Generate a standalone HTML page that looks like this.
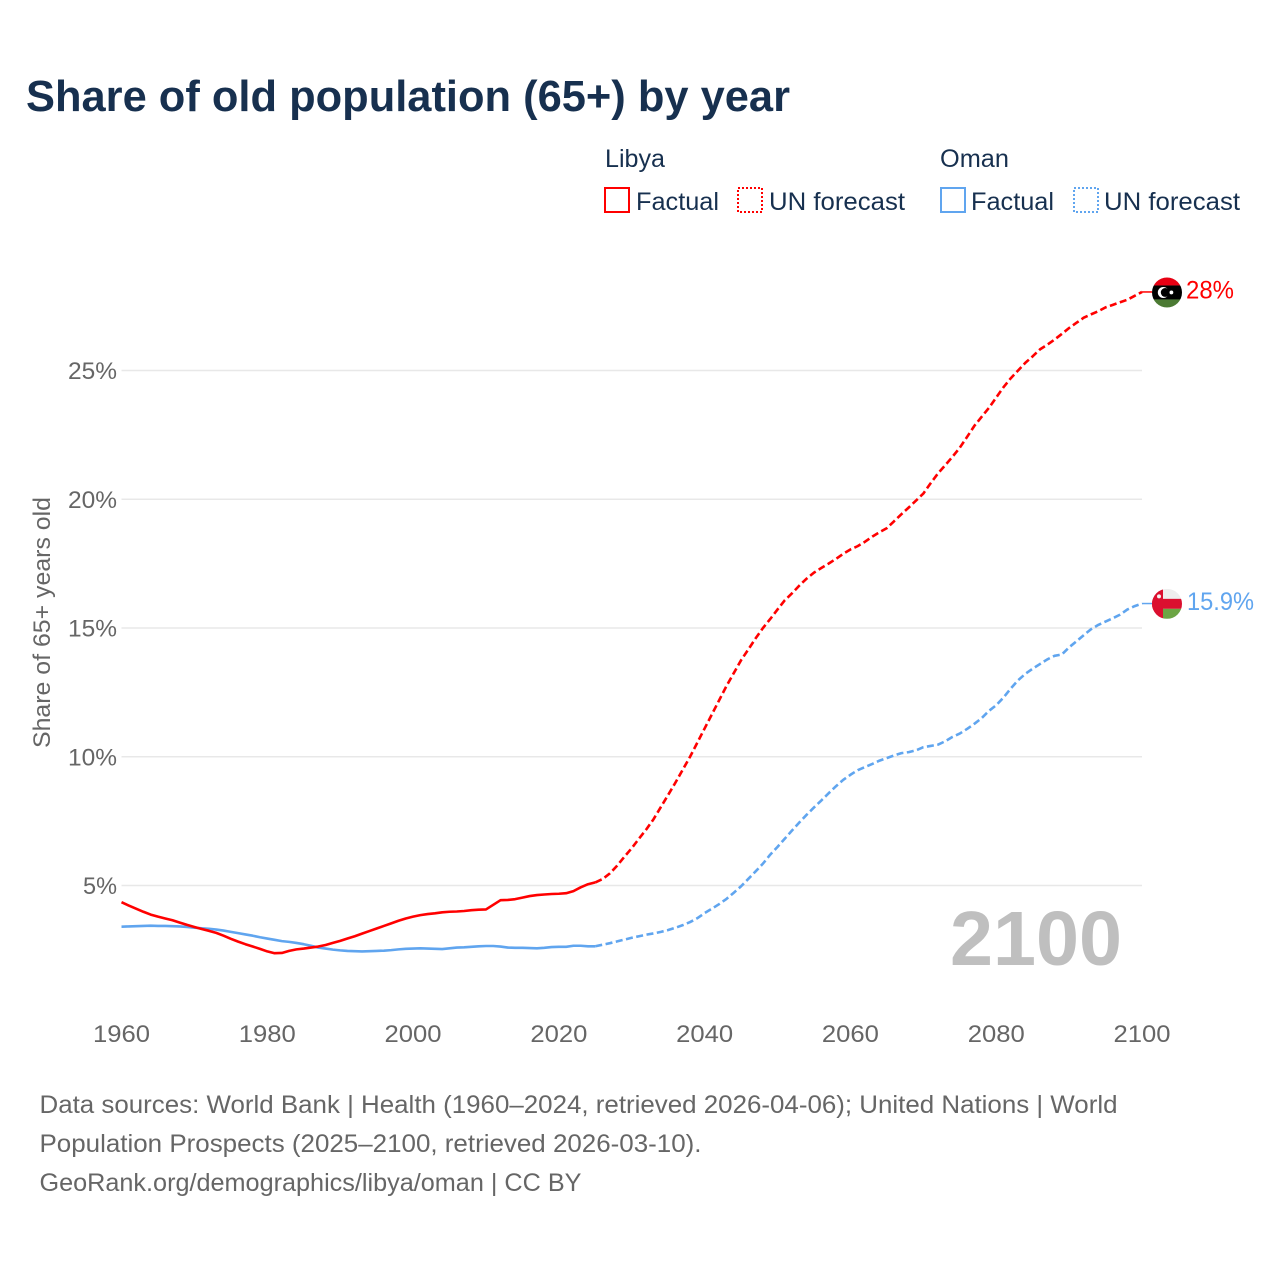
<!DOCTYPE html>
<html lang="en">
<head>
<meta charset="utf-8">
<title>Share of old population (65+) by year</title>
<style>
html,body{margin:0;padding:0;background:#fff;}
svg{display:block;font-family:"Liberation Sans",sans-serif;}
</style>
</head>
<body>
<svg id="chart" xmlns="http://www.w3.org/2000/svg" width="1280" height="1280" viewBox="0 0 1280 1280">
  <rect x="0" y="0" width="1280" height="1280" fill="#ffffff"/>
  <text x="26" y="111" font-size="44" font-weight="700" fill="#17304f" textLength="764" lengthAdjust="spacingAndGlyphs">Share of old population (65+) by year</text>

  <g>
    <text x="605" y="167" font-size="25" fill="#17304f" textLength="60" lengthAdjust="spacingAndGlyphs">Libya</text>
    <rect x="605" y="188" width="24" height="24" fill="none" stroke="#ff0000" stroke-width="2"/>
    <text x="636" y="210" font-size="25" fill="#17304f" textLength="83" lengthAdjust="spacingAndGlyphs">Factual</text>
    <rect x="738" y="188" width="24" height="24" fill="none" stroke="#ff0000" stroke-width="2" stroke-dasharray="2 2"/>
    <text x="769" y="210" font-size="25" fill="#17304f" textLength="136" lengthAdjust="spacingAndGlyphs">UN forecast</text>
    <text x="940" y="167" font-size="25" fill="#17304f" textLength="69" lengthAdjust="spacingAndGlyphs">Oman</text>
    <rect x="941" y="188" width="24" height="24" fill="none" stroke="#60a5ef" stroke-width="2"/>
    <text x="971" y="210" font-size="25" fill="#17304f" textLength="83" lengthAdjust="spacingAndGlyphs">Factual</text>
    <rect x="1074" y="188" width="24" height="24" fill="none" stroke="#60a5ef" stroke-width="2" stroke-dasharray="2 2"/>
    <text x="1104" y="210" font-size="25" fill="#17304f" textLength="136" lengthAdjust="spacingAndGlyphs">UN forecast</text>
  </g>

  <text transform="translate(50,622.5) rotate(-90)" text-anchor="middle" font-size="24" fill="#666666" textLength="251" lengthAdjust="spacingAndGlyphs">Share of 65+ years old</text>

  <g id="grid-layer"></g>
  <g id="y-tick-layer"></g>
  <g id="x-tick-layer"></g>

  <text x="1122" y="965" text-anchor="end" font-size="77" font-weight="700" fill="#bfbfbf" textLength="172" lengthAdjust="spacingAndGlyphs">2100</text>

  <g id="series-layer"></g>

  <defs>
    <clipPath id="flag-clip"><circle cx="0" cy="0" r="15"/></clipPath>
  </defs>
  <g id="libya-flag" clip-path="url(#flag-clip)">
    <rect x="-15" y="-15" width="30" height="8" fill="#e70013"/>
    <rect x="-15" y="-7" width="30" height="14" fill="#000000"/>
    <rect x="-15" y="7" width="30" height="8" fill="#4b7a33"/>
    <circle cx="-3.7" cy="0" r="5.5" fill="#ffffff"/>
    <circle cx="-1.8" cy="0" r="4.4" fill="#000000"/>
    <circle cx="4.4" cy="0" r="1.9" fill="#ffffff"/>
  </g>
  <g id="oman-flag" clip-path="url(#flag-clip)">
    <rect x="-15" y="-15" width="30" height="10" fill="#eeeeee"/>
    <rect x="-15" y="-5" width="30" height="10" fill="#db0f2f"/>
    <rect x="-4" y="5" width="19" height="10" fill="#6ca544"/>
    <rect x="-15" y="-15" width="11" height="30" fill="#db0f2f"/>
    <circle cx="-8" cy="-7.5" r="2" fill="#f4f4f4"/>
  </g>

  <text id="libya-end-label" x="1186" font-size="25" fill="#ff0000" textLength="48" lengthAdjust="spacingAndGlyphs"></text>
  <text id="oman-end-label" x="1187" font-size="25" fill="#60a5ef" textLength="67" lengthAdjust="spacingAndGlyphs"></text>

  <g font-size="25" fill="#666666">
    <text x="39.5" y="1113" textLength="1078" lengthAdjust="spacingAndGlyphs">Data sources: World Bank | Health (1960–2024, retrieved 2026-04-06); United Nations | World</text>
    <text x="39.5" y="1152" textLength="662" lengthAdjust="spacingAndGlyphs">Population Prospects (2025–2100, retrieved 2026-03-10).</text>
    <text x="39.5" y="1191" textLength="542" lengthAdjust="spacingAndGlyphs">GeoRank.org/demographics/libya/oman | CC BY</text>
  </g>
</svg>

<script>
const yearTicks = [1960, 1980, 2000, 2020, 2040, 2060, 2080, 2100];
const percentTicks = [5, 10, 15, 20, 25];
const percentTickLabels = ['5%', '10%', '15%', '20%', '25%'];
const firstFactualYear = 1960;
const firstForecastYear = 2025;
const libyaEndLabel = '28%';
const omanEndLabel = '15.9%';

const libyaFactual = [
  4.35,4.22,4.10,3.98,3.87,3.79,3.72,3.65,3.56,3.47,
  3.39,3.31,3.24,3.16,3.05,2.93,2.82,2.72,2.63,2.54,
  2.44,2.37,2.38,2.46,2.52,2.55,2.59,2.63,2.69,2.77,
  2.85,2.94,3.03,3.13,3.23,3.33,3.43,3.53,3.63,3.72,
  3.79,3.85,3.89,3.92,3.96,3.98,3.99,4.01,4.04,4.06,
  4.07,4.25,4.43,4.44,4.47,4.53,4.59,4.63,4.65,4.67,
  4.68,4.70,4.78,4.93,5.05,5.12
];
const libyaForecast = [
  5.12,5.25,5.47,5.77,6.12,
  6.45,6.82,7.18,7.58,8.05,8.52,9.00,9.50,10.00,10.55,
  11.10,11.65,12.20,12.75,13.25,13.75,14.17,14.60,15.00,15.35,
  15.72,16.08,16.35,16.65,16.92,17.15,17.33,17.50,17.68,17.88,
  18.05,18.18,18.35,18.55,18.72,18.88,19.15,19.42,19.68,19.95,
  20.22,20.62,21.00,21.32,21.65,22.00,22.42,22.85,23.20,23.55,
  23.95,24.35,24.70,25.00,25.30,25.55,25.82,26.00,26.20,26.42,
  26.65,26.85,27.05,27.18,27.30,27.45,27.55,27.65,27.75,27.90,
  28.05
];
const omanFactual = [
  3.40,3.41,3.42,3.43,3.44,3.43,3.43,3.42,3.41,3.39,
  3.36,3.34,3.32,3.29,3.25,3.20,3.15,3.10,3.05,2.99,
  2.94,2.89,2.84,2.81,2.77,2.72,2.66,2.59,2.55,2.51,
  2.48,2.46,2.45,2.44,2.45,2.46,2.47,2.49,2.52,2.54,
  2.55,2.56,2.55,2.54,2.53,2.56,2.59,2.60,2.62,2.64,
  2.65,2.65,2.63,2.59,2.58,2.58,2.57,2.56,2.58,2.61,
  2.62,2.62,2.66,2.66,2.64,2.64
];
const omanForecast = [
  2.64,2.70,2.76,2.83,2.90,
  2.97,3.03,3.09,3.14,3.20,3.27,3.36,3.46,3.58,3.73,
  3.93,4.10,4.28,4.48,4.72,4.97,5.26,5.55,5.85,6.20,
  6.50,6.82,7.14,7.45,7.75,8.03,8.30,8.58,8.85,9.10,
  9.30,9.48,9.60,9.72,9.85,9.95,10.05,10.14,10.18,10.25,
  10.37,10.42,10.47,10.60,10.77,10.90,11.08,11.28,11.50,11.78,
  12.00,12.30,12.65,12.97,13.22,13.42,13.60,13.78,13.92,13.97,
  14.25,14.48,14.72,14.95,15.12,15.25,15.38,15.52,15.72,15.85,
  15.95
];

const SVGNS = 'http://www.w3.org/2000/svg';
function xScale(year) { return 121.5 + (year - 1960) * (1020.5 / 140); }
function yScale(pct) { return 885.5 - (pct - 5) * 25.75; }

function pointsFrom(startYear, values) {
  return values.map(function (v, i) {
    return xScale(startYear + i).toFixed(2) + ',' + yScale(v).toFixed(2);
  }).join(' ');
}

const gridLayer = document.getElementById('grid-layer');
const yTickLayer = document.getElementById('y-tick-layer');
const xTickLayer = document.getElementById('x-tick-layer');
const seriesLayer = document.getElementById('series-layer');

percentTicks.forEach(function (p, i) {
  const line = document.createElementNS(SVGNS, 'line');
  line.setAttribute('x1', xScale(1960));
  line.setAttribute('x2', xScale(2100));
  line.setAttribute('y1', yScale(p));
  line.setAttribute('y2', yScale(p));
  line.setAttribute('stroke', '#e8e8e8');
  line.setAttribute('stroke-width', '1.4');
  
  
  gridLayer.appendChild(line);

  const label = document.createElementNS(SVGNS, 'text');
  label.setAttribute('x', 117);
  label.setAttribute('y', yScale(p) + 8.5);
  label.setAttribute('text-anchor', 'end');
  label.setAttribute('font-size', '24');
  label.setAttribute('fill', '#666666');
  label.setAttribute('textLength', 15 * percentTickLabels[i].length + 4);
  label.setAttribute('lengthAdjust', 'spacingAndGlyphs');
  
  
  label.textContent = percentTickLabels[i];
  yTickLayer.appendChild(label);
});

yearTicks.forEach(function (yr) {
  const label = document.createElementNS(SVGNS, 'text');
  label.setAttribute('x', xScale(yr));
  label.setAttribute('y', 1042);
  label.setAttribute('text-anchor', 'middle');
  label.setAttribute('font-size', '24');
  label.setAttribute('fill', '#666666');
  label.setAttribute('textLength', 57);
  label.setAttribute('lengthAdjust', 'spacingAndGlyphs');
  
  
  label.textContent = yr;
  xTickLayer.appendChild(label);
});

function drawLine(startYear, values, color, dashed, name) {
  const pl = document.createElementNS(SVGNS, 'polyline');
  pl.setAttribute('points', pointsFrom(startYear, values));
  pl.setAttribute('fill', 'none');
  pl.setAttribute('stroke', color);
  pl.setAttribute('stroke-width', '2.6');
  pl.setAttribute('stroke-linejoin', 'round');
  if (dashed) { pl.setAttribute('stroke-dasharray', '7 3.5'); }
  
  
  seriesLayer.appendChild(pl);
}

function drawConnector(endValue, color, name) {
  const c = document.createElementNS(SVGNS, 'line');
  c.setAttribute('x1', xScale(2100));
  c.setAttribute('x2', xScale(2100) + 10);
  c.setAttribute('y1', yScale(endValue));
  c.setAttribute('y2', yScale(endValue));
  c.setAttribute('stroke', color);
  c.setAttribute('stroke-width', '1.5');
  
  
  seriesLayer.appendChild(c);
}

drawLine(firstFactualYear, omanFactual, '#60a5ef', false, 'oman-factual-line');
drawLine(firstForecastYear, omanForecast, '#60a5ef', true, 'oman-forecast-line');
drawLine(firstFactualYear, libyaFactual, '#ff0000', false, 'libya-factual-line');
drawLine(firstForecastYear, libyaForecast, '#ff0000', true, 'libya-forecast-line');

const libyaEnd = libyaForecast[libyaForecast.length - 1];
const omanEnd = omanForecast[omanForecast.length - 1];
drawConnector(omanEnd, '#60a5ef', 'oman-end-connector');
drawConnector(libyaEnd, '#ff0000', 'libya-end-connector');
document.getElementById('libya-flag').setAttribute('transform', 'translate(1167,' + (yScale(libyaEnd) + 0.5) + ')');
document.getElementById('oman-flag').setAttribute('transform', 'translate(1167,' + (yScale(omanEnd) + 0.3) + ')');
const libyaLabelEl = document.getElementById('libya-end-label');
libyaLabelEl.setAttribute('y', yScale(libyaEnd) + 6.5);
libyaLabelEl.textContent = libyaEndLabel;
const omanLabelEl = document.getElementById('oman-end-label');
omanLabelEl.setAttribute('y', yScale(omanEnd) + 6.5);
omanLabelEl.textContent = omanEndLabel;
</script>
</body>
</html>
